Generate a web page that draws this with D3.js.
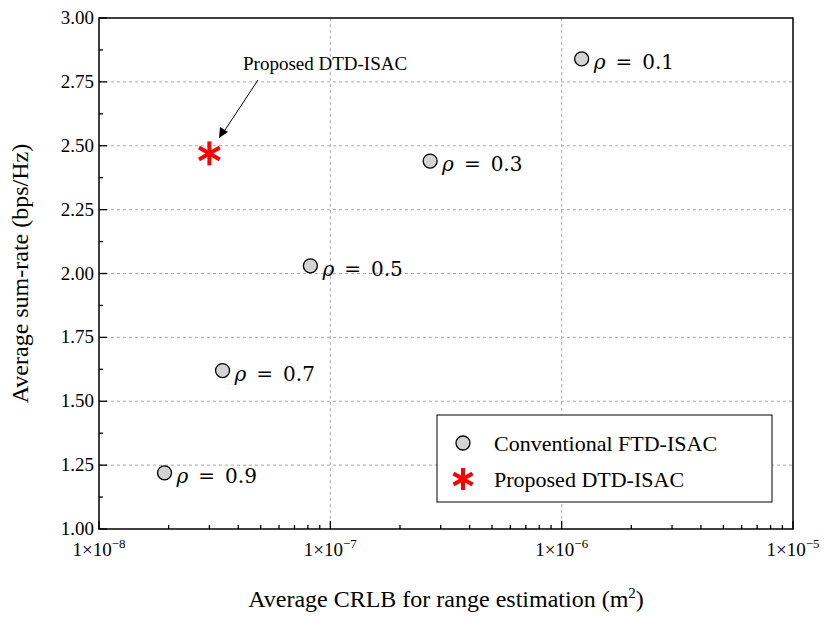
<!DOCTYPE html><html><head><script src="https://cdn.jsdelivr.net/npm/d3@7"></script>
<style>body{margin:0;background:#fff}</style></head><body>
<svg id="c" width="824" height="620" font-family="Liberation Serif, Times New Roman, serif"></svg>
<script>
const convLabels=["ρ = 0.1","ρ = 0.3","ρ = 0.5","ρ = 0.7","ρ = 0.9"];
const convCRLB=[1.22e-6,2.70e-7,8.2e-8,3.42e-8,1.92e-8];
const convRate=[2.84,2.44,2.03,1.62,1.22];
const propCRLB=[3.0e-8];
const propRate=[2.47];
const xTicks=[1e-8,1e-7,1e-6,1e-5];
const xTickLabels=["8","7","6","5"];
const yTicks=[1.00,1.25,1.50,1.75,2.00,2.25,2.50,2.75,3.00];

const svg=d3.select("#c");
const L=99,R=793,T=18,B=529;
const x=d3.scaleLog().domain([1e-8,1e-5]).range([L,R]);
const y=d3.scaleLinear().domain([1,3]).range([B,T]);
const g=svg.append("g");
xTicks.slice(1,3).forEach(t=>g.append("line").attr("x1",x(t)).attr("x2",x(t)).attr("y1",T).attr("y2",B).attr("stroke","#aaa").attr("stroke-dasharray","3,3"));
yTicks.slice(1,-1).forEach(t=>g.append("line").attr("x1",L).attr("x2",R).attr("y1",y(t)).attr("y2",y(t)).attr("stroke","#aaa").attr("stroke-dasharray","3,3"));
g.append("rect").attr("x",L).attr("y",T).attr("width",R-L).attr("height",B-T).attr("fill","none").attr("stroke","#000").attr("stroke-width",1.5);
const minor=[];for(let d=-8;d<-5;d++)for(let k=2;k<10;k++)minor.push(k*Math.pow(10,d));
minor.forEach(t=>g.append("line").attr("x1",x(t)).attr("x2",x(t)).attr("y1",B).attr("y2",B-4).attr("stroke","#000").attr("stroke-width",1.3));
xTicks.forEach((t,i)=>{g.append("line").attr("x1",x(t)).attr("x2",x(t)).attr("y1",B).attr("y2",B-8).attr("stroke","#000").attr("stroke-width",1.3);
 const tx=g.append("text").attr("x",x(t)).attr("y",B+27).attr("text-anchor","middle").attr("font-size",19);
 tx.append("tspan").text("1×10");tx.append("tspan").attr("dy",-8).attr("font-size",13).text("−"+xTickLabels[i]);});
yTicks.forEach(t=>{g.append("line").attr("x1",L).attr("x2",L+8).attr("y1",y(t)).attr("y2",y(t)).attr("stroke","#000").attr("stroke-width",1.3);
 g.append("text").attr("x",L-5).attr("y",y(t)+6).attr("text-anchor","end").attr("font-size",19).text(t.toFixed(2));});
yTicks.slice(0,-1).forEach(t=>g.append("line").attr("x1",L).attr("x2",L+4).attr("y1",y(t+0.125)).attr("y2",y(t+0.125)).attr("stroke","#000").attr("stroke-width",1.3));
g.append("text").attr("x",446).attr("y",607).attr("text-anchor","middle").attr("font-size",24).html('Average CRLB for range estimation (m<tspan dy="-9" font-size="15">2</tspan><tspan dy="9">)</tspan>');
g.append("text").attr("transform",`translate(28,${(T+B)/2}) rotate(-90)`).attr("text-anchor","middle").attr("font-size",24).text("Average sum-rate (bps/Hz)");
convCRLB.forEach((c,i)=>{g.append("circle").attr("cx",x(c)).attr("cy",y(convRate[i])).attr("r",7).attr("fill","#d3d3d3").attr("stroke","#000").attr("stroke-width",1.3);
 g.append("text").attr("x",x(c)+12).attr("y",y(convRate[i])+10).attr("font-size",20).attr("font-family","DejaVu Serif").attr("xml:space","preserve").html('<tspan font-style="italic">ρ</tspan>'+convLabels[i].slice(1).replace(/ /g,"\u2002"));});
function ast(cx,cy,s){const a=g.append("g").attr("transform",`translate(${cx},${cy})`);
 [0,60,120].forEach(r=>a.append("line").attr("x1",0).attr("y1",-s).attr("x2",0).attr("y2",s).attr("transform",`rotate(${r})`).attr("stroke","#f00").attr("stroke-width",4));}
propCRLB.forEach((c,i)=>ast(x(c),y(propRate[i]),12));
g.append("text").attr("x",243).attr("y",70).attr("font-size",19).text("Proposed DTD-ISAC");
g.append("line").attr("x1",258).attr("y1",80).attr("x2",223).attr("y2",133).attr("stroke","#000");
g.append("path").attr("d","M219,138 L220,127 L228,132 Z").attr("fill","#000");
const lx=437,ly=415;
g.append("rect").attr("x",lx).attr("y",ly).attr("width",335).attr("height",87).attr("fill","#fff").attr("stroke","#000");
g.append("circle").attr("cx",lx+26).attr("cy",ly+28).attr("r",7).attr("fill","#d3d3d3").attr("stroke","#000").attr("stroke-width",1.3);
g.append("text").attr("x",lx+57).attr("y",ly+36).attr("font-size",22).text("Conventional FTD-ISAC");
ast(lx+26,ly+64,11);
g.append("text").attr("x",lx+57).attr("y",ly+72).attr("font-size",22).text("Proposed DTD-ISAC");
</script></body></html>
